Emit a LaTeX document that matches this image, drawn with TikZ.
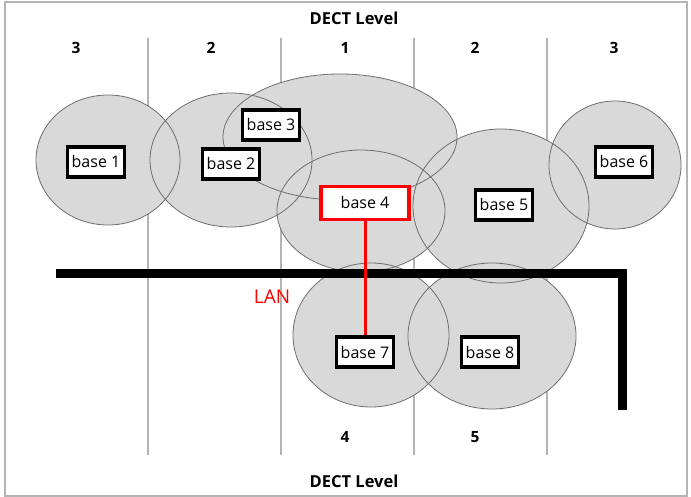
\documentclass[tikz,border=0pt]{standalone}
\usepackage{fontspec}
\setmainfont{Open Sans}
\usepackage{tikz}
\usetikzlibrary{positioning}

\definecolor{zone}{RGB}{217,217,217}
\definecolor{trait}{RGB}{110,110,110}
\definecolor{grille}{RGB}{180,180,180}

\tikzset{
  base/.style={draw=black,line width=3.2pt,fill=white,inner sep=1pt,minimum height=30pt,minimum width=57pt,font=\fontsize{16}{18}\selectfont},
  niveau/.style={font=\bfseries\fontsize{15.5}{18}\selectfont},
}

\begin{document}
\begin{tikzpicture}[x=1pt,y=-1pt]% échelle : 1 px
\useasboundingbox (0,0) rectangle (691,497);
\draw[grille,line width=1.5pt] (5,2) rectangle (687,496);

% colonnes
\foreach \x in {148,281,414,547}
  \draw[grille,line width=1.3pt] (\x,38) -- (\x,455);

% zones de couverture
\foreach \cx/\cy/\rx/\ry in {108/160/72/65, 231/160/81/67, 340/137/117/63, 361/211/84/61, 501/206/88/77, 615/165/66/64, 371/335/78/72, 492/336/84/73}
  \fill[zone] (\cx,\cy) ellipse [x radius=\rx, y radius=\ry];
\foreach \cx/\cy/\rx/\ry in {108/160/72/65, 231/160/81/67, 340/137/117/63, 361/211/84/61, 501/206/88/77, 615/165/66/64, 371/335/78/72, 492/336/84/73}
  \draw[trait,line width=0.8pt] (\cx,\cy) ellipse [x radius=\rx, y radius=\ry];

% LAN
\draw[line width=9pt] (56,273.5) -- (622.5,273.5) -- (622.5,410);
\node[red,font=\fontsize{19}{20}\selectfont] (lan) at (272,297) {LAN};

% titres
\node[font=\bfseries\fontsize{16.5}{18}\selectfont] (haut) at (354,18) {DECT Level};
\node[font=\bfseries\fontsize{16.5}{18}\selectfont] (bas) at (354,481) {DECT Level};
\node[niveau] (n1) at (76,48) {3};
\node[niveau] (n2) at (211,48) {2};
\node[niveau] (n3) at (345,48) {1};
\node[niveau] (n4) at (475,48) {2};
\node[niveau] (n5) at (614,48) {3};
\node[niveau] (n6) at (345,437) {4};
\node[niveau] (n7) at (475,437) {5};

% bases
\node[base] (b1) at (96,162) {base 1};
\node[base] (b2) at (231,164) {base 2};
\node[base] (b3) at (271,125) {base 3};
\node[base,draw=red,minimum width=88pt,minimum height=33pt] (b4) at (365,203) {base 4};
\node[base] (b5) at (504,205) {base 5};
\node[base] (b6) at (624,162) {base 6};
\node[base] (b7) at (365,352) {base 7};
\node[base] (b8) at (490,352) {base 8};

\draw[red,line width=3pt] (b4) -- (b7);

\end{tikzpicture}
\end{document}
